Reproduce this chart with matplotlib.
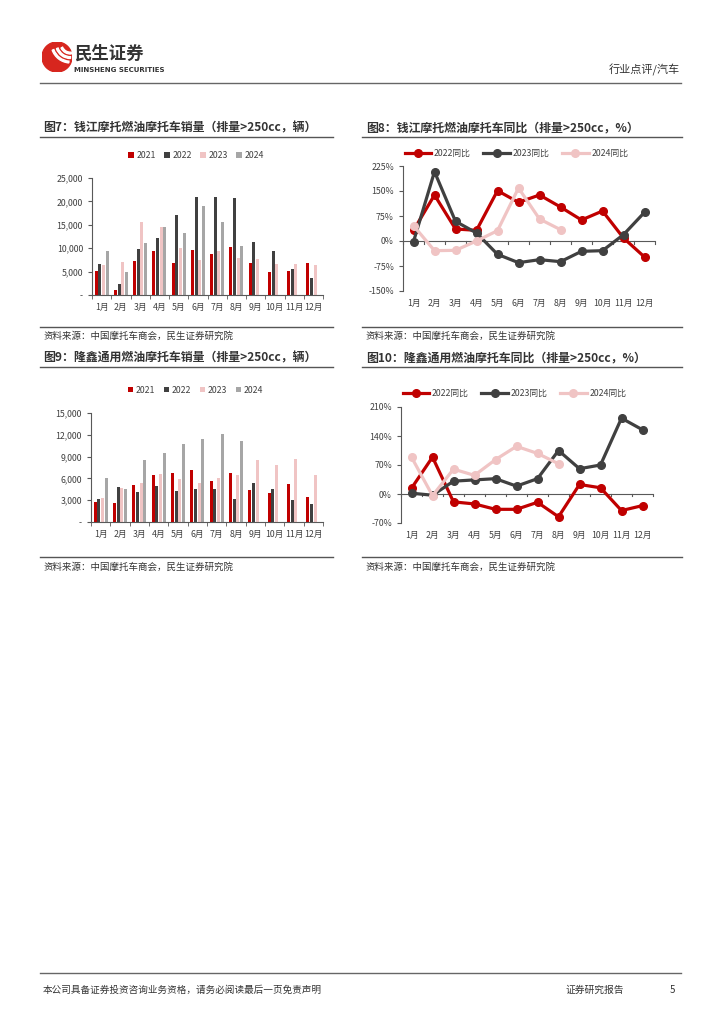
import numpy as np
import matplotlib
matplotlib.use('Agg')
import matplotlib.pyplot as plt
from matplotlib.patches import Circle, Wedge
from matplotlib.lines import Line2D

plt.rcParams['font.family'] = ['Noto Sans CJK SC', 'DejaVu Sans']

# 数据
meses = ['1月', '2月', '3月', '4月', '5月', '6月', '7月', '8月', '9月', '10月', '11月', '12月']
anios = ['2021', '2022', '2023', '2024']

# 钱江摩托燃油摩托车销量（辆）
qj_2021 = [5100, 1000, 7300, 9300, 6800, 9700, 8800, 10300, 6900, 4900, 5200, 6800]
qj_2022 = [6700, 2300, 9800, 12100, 17200, 20900, 20900, 20700, 11400, 9500, 5600, 3600]
qj_2023 = [6500, 7000, 15500, 14600, 10100, 7400, 9300, 8000, 7700, 6600, 6700, 6500]
qj_2024 = [9500, 5000, 11200, 14600, 13300, 19000, 15500, 10500, np.nan, np.nan, np.nan, np.nan]

# 钱江同比（%）
qj_yoy_2022 = [32, 138, 36, 32, 151, 116, 138, 102, 63, 90, 9, -48]
qj_yoy_2023 = [-2, 208, 59, 24, -40, -65, -56, -62, -31, -29, 19, 86]
qj_yoy_2024 = [46, -29, -28, 0, 31, 159, 66, 34]

# 隆鑫通用燃油摩托车销量（辆）
lx_2021 = [2800, 2600, 5100, 6500, 6800, 7100, 5600, 6800, 4400, 4000, 5200, 3500]
lx_2022 = [3200, 4800, 4100, 4900, 4300, 4500, 4500, 3100, 5300, 4600, 3000, 2500]
lx_2023 = [3300, 4700, 5400, 6600, 5900, 5300, 6100, 6400, 8600, 7900, 8700, 6500]
lx_2024 = [6100, 4500, 8600, 9500, 10800, 11400, 12100, 11100, np.nan, np.nan, np.nan, np.nan]

# 隆鑫同比（%）
lx_yoy_2022 = [14, 89, -19, -24, -37, -37, -20, -55, 23, 15, -40, -28]
lx_yoy_2023 = [2, -3, 31, 34, 37, 19, 37, 105, 61, 70, 183, 155]
lx_yoy_2024 = [89, -4, 60, 45, 83, 115, 98, 73]

ROJO = '#C00000'
OSCURO = '#404040'
ROSA = '#F0C4C4'
GRIS = '#A6A6A6'
TXT = '#404040'

W, H = 724, 1024
fig = plt.figure(figsize=(W / 100, H / 100), dpi=100)


def caja(x0, y0, x1, y1):
    return [x0 / W, 1 - y1 / H, (x1 - x0) / W, (y1 - y0) / H]


def texto(x, y, s, **kw):
    fig.text(x / W, 1 - y / H, s, **kw)


def linea(x0, x1, y, color='#555555', lw=1.0):
    fig.add_artist(Line2D([x0 / W, x1 / W], [1 - y / H, 1 - y / H], color=color, lw=lw))


def fmt_miles(v):
    return '-' if v == 0 else f'{int(v):,}'


def grafico_barras(pos, series, ymax, paso, ley_y):
    ax = fig.add_axes(caja(*pos))
    x = np.arange(len(meses))
    colores = [ROJO, OSCURO, ROSA, GRIS]
    ancho = 0.16
    for i, (s, c, nom) in enumerate(zip(series, colores, anios)):
        ax.bar(x + (i - 1.5) * 0.19, s, width=ancho, color=c, label=nom)
    ax.set_xlim(-0.5, 11.5)
    ax.set_ylim(0, ymax)
    ticks = np.arange(0, ymax + 1, paso)
    ax.set_yticks(ticks)
    ax.set_yticklabels([fmt_miles(t) for t in ticks])
    ax.set_xticks(x)
    ax.set_xticklabels(meses)
    ax.set_xticks(np.arange(-0.5, 12, 1), minor=True)
    ax.tick_params(axis='x', which='major', length=0, pad=6, labelsize=6.3, colors=TXT)
    ax.tick_params(axis='x', which='minor', length=3, color='#595959')
    ax.tick_params(axis='y', length=3, labelsize=6.3, colors=TXT, color='#595959')
    for k in ['top', 'right']:
        ax.spines[k].set_visible(False)
    for k in ['left', 'bottom']:
        ax.spines[k].set_color('#595959')
        ax.spines[k].set_linewidth(0.8)
    leg = ax.legend(loc='center', bbox_to_anchor=(0.45, ley_y), ncol=4, frameon=False,
                    fontsize=6.3, handlelength=0.6, handleheight=0.6, handletextpad=0.3,
                    columnspacing=1.0)
    for t in leg.get_texts():
        t.set_color(TXT)
    return ax


def grafico_lineas(pos, series, ymin, ymax, paso, ley_y):
    ax = fig.add_axes(caja(*pos))
    colores = [ROJO, OSCURO, ROSA]
    noms = ['2022同比', '2023同比', '2024同比']
    for s, c, nom in zip(series, colores, noms):
        ax.plot(np.arange(len(s)), s, color=c, lw=2.3, marker='o', markersize=5.5, label=nom)
    ax.set_xlim(-0.5, 11.5)
    ax.set_ylim(ymin, ymax)
    ticks = np.arange(ymin, ymax + 1, paso)
    ax.set_yticks(ticks)
    ax.set_yticklabels([f'{int(t)}%' for t in ticks])
    ax.set_xticks(np.arange(12))
    ax.set_xticklabels(meses)
    ax.axhline(0, color='#595959', lw=0.8, zorder=0)
    for b in np.arange(-0.5, 12, 1):
        ax.plot([b, b], [0, -(ymax - ymin) * 0.02], color='#595959', lw=0.8, zorder=0,
                clip_on=False)
    ax.tick_params(axis='x', length=0, pad=6, labelsize=6.3, colors=TXT)
    ax.tick_params(axis='y', length=3, labelsize=6.3, colors=TXT, color='#595959')
    for k in ['top', 'right', 'bottom']:
        ax.spines[k].set_visible(False)
    ax.spines['left'].set_color('#595959')
    ax.spines['left'].set_linewidth(0.8)
    leg = ax.legend(loc='center', bbox_to_anchor=(0.45, ley_y), ncol=3, frameon=False,
                    fontsize=6.3, handlelength=3.0, handletextpad=0.3, columnspacing=1.5)
    for t in leg.get_texts():
        t.set_color(TXT)
    return ax


# Encabezado
logo = fig.add_axes(caja(42, 42, 72, 72))
logo.set_xlim(-1, 1)
logo.set_ylim(-1, 1)
logo.set_aspect('equal')
logo.axis('off')
logo.add_patch(Circle((0, 0), 1, color='#D7261E'))
for r, t1, t2 in [(1.3, 200, 265), (1.0, 200, 270), (0.7, 205, 275)]:
    logo.add_patch(Wedge((0.9, 0.9), r, t1, t2, width=0.12, color='white'))
texto(74, 54, '民生证券', fontsize=12.5, fontweight='bold', color='#333333', va='center')
texto(74, 70, 'MINSHENG SECURITIES', fontsize=5.0, fontweight='bold', color='#333333',
      va='center', family='DejaVu Sans')
texto(680, 70, '行业点评/汽车', fontsize=8, color='#333333', ha='right', va='center')
linea(40, 681, 83, color='#666666', lw=1.0)

# Títulos
tit_kw = dict(fontsize=8.6, fontweight='bold', color='#333333', va='center')
texto(43, 128, '图7：钱江摩托燃油摩托车销量（排量>250cc，辆）', **tit_kw)
texto(366, 128, '图8：钱江摩托燃油摩托车同比（排量>250cc，%）', **tit_kw)
texto(43, 358, '图9：隆鑫通用燃油摩托车销量（排量>250cc，辆）', **tit_kw)
texto(366, 358, '图10：隆鑫通用燃油摩托车同比（排量>250cc，%）', **tit_kw)
linea(40, 333, 137)
linea(362, 682, 137)
linea(40, 333, 367)
linea(362, 682, 367)

# Gráficos
grafico_barras((92, 178, 323, 295), [qj_2021, qj_2022, qj_2023, qj_2024], 25000, 5000, 1.19)
grafico_lineas((403, 166, 655, 291), [qj_yoy_2022, qj_yoy_2023, qj_yoy_2024], -150, 225, 75, 1.1)
grafico_barras((91, 413, 323, 522), [lx_2021, lx_2022, lx_2023, lx_2024], 15000, 3000, 1.21)
grafico_lineas((401, 407, 653, 523), [lx_yoy_2022, lx_yoy_2023, lx_yoy_2024], -70, 210, 70, 1.12)

# Fuentes
linea(40, 333, 327)
linea(362, 682, 327)
linea(40, 333, 557)
linea(362, 682, 557)
for xx, yy in [(43, 336), (366, 336), (43, 567), (366, 567)]:
    texto(xx, yy, '资料来源：中国摩托车商会，民生证券研究院', fontsize=6.8, color='#333333',
          va='center')

# Pie
linea(40, 681, 973, color='#666666', lw=1.0)
texto(43, 990, '本公司具备证券投资咨询业务资格，请务必阅读最后一页免责声明', fontsize=6.9,
      color='#333333', va='center')
texto(565, 990, '证券研究报告', fontsize=7.0, color='#333333', va='center')
texto(675, 990, '5', fontsize=7.0, color='#333333', va='center', ha='right')

fig.savefig('out.png', dpi=100)
